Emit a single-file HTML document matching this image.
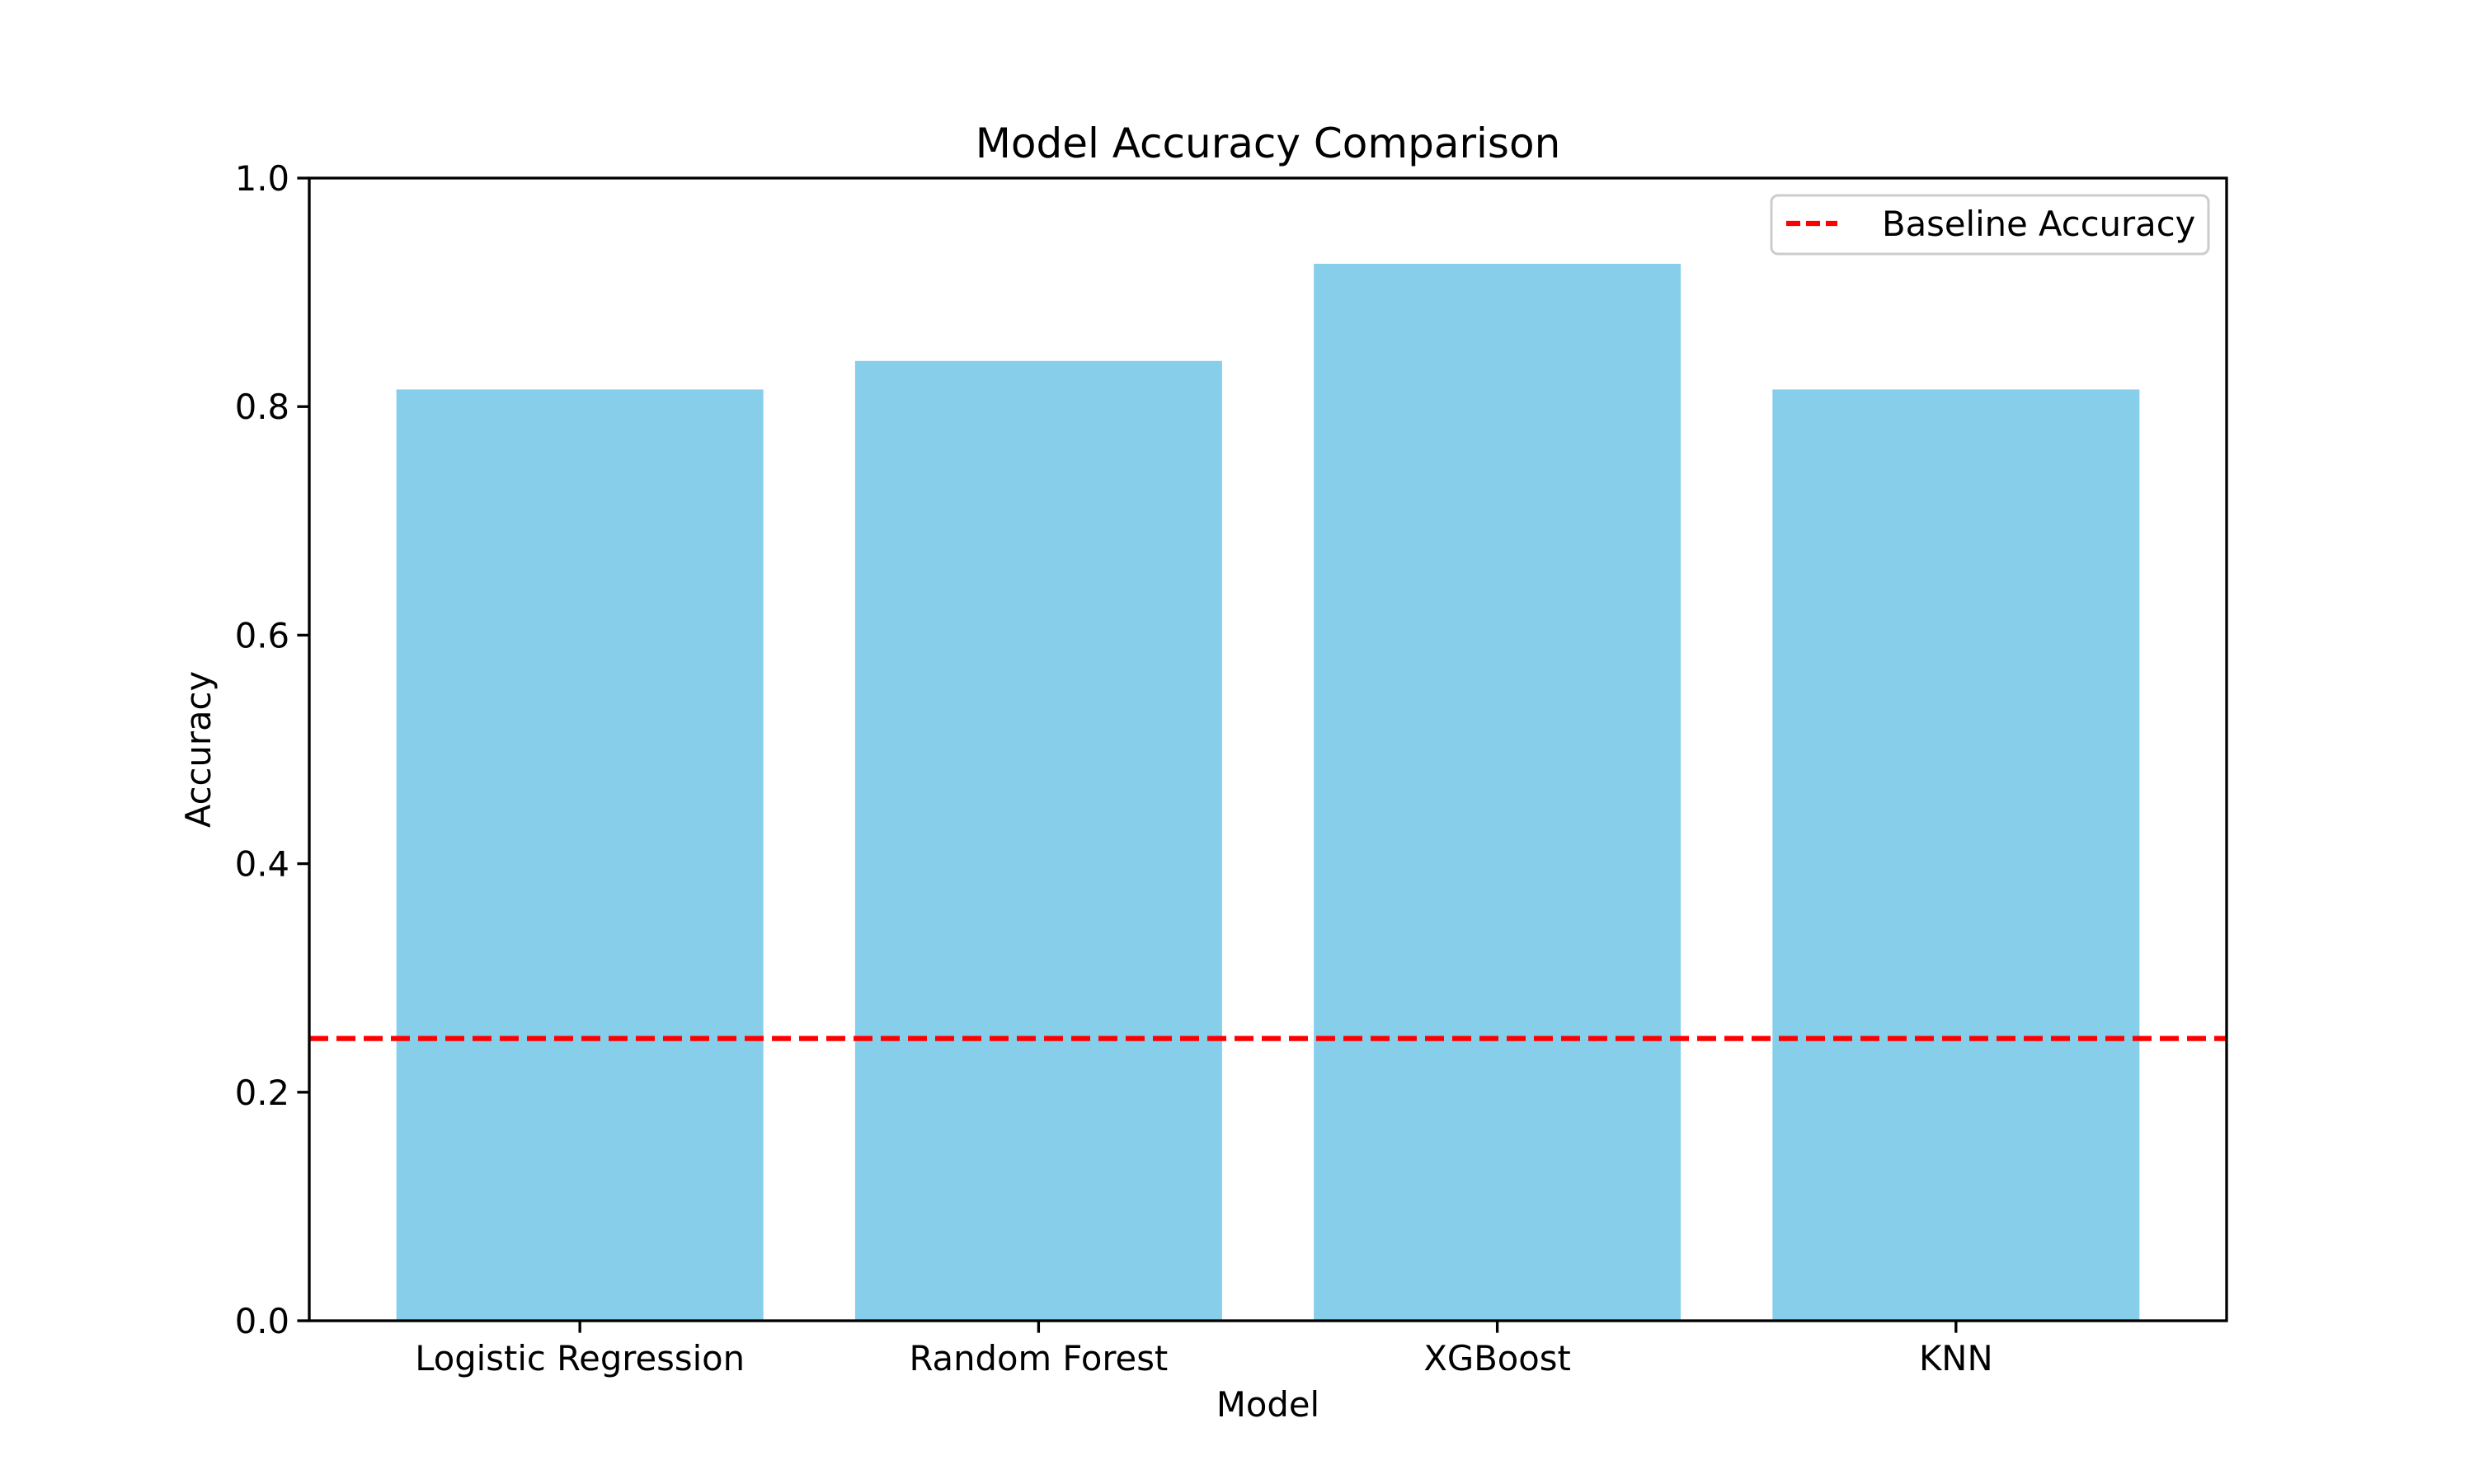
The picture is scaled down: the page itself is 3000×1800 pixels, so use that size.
<!DOCTYPE html>
<html><head><meta charset="utf-8"><style>
html,body{margin:0;padding:0;background:#fff}
svg{display:block;font-family:"DejaVu Sans","Liberation Sans",sans-serif}
</style></head><body>
<svg id="chart" width="3000" height="1800" viewBox="0 0 3000 1800" xmlns="http://www.w3.org/2000/svg">
<rect width="3000" height="1800" fill="#fff"/>
<g id="bars"></g>
<g id="baseline"></g>
<g id="axes"></g>
<text x="1537.5" y="191" font-size="50" text-anchor="middle">Model Accuracy Comparison</text>
<text x="1537.5" y="1718" font-size="41.7" text-anchor="middle">Model</text>
<text x="255" y="909" font-size="41.7" text-anchor="middle" transform="rotate(-90 255 909)">Accuracy</text>
<g>
<rect x="2148" y="237" width="530" height="71" rx="8" fill="#fff" fill-opacity="0.8" stroke="#ccc" stroke-width="3"/>
<line x1="2164" y1="271" x2="2228" y2="271" stroke="#ff0000" stroke-width="6.25" stroke-dasharray="17,7" stroke-dashoffset="-2"/>
<text x="2282" y="286" font-size="41.7">Baseline Accuracy</text>
</g>
</svg>
<script>
const categories = ["Logistic Regression","Random Forest","XGBoost","KNN"];
const accuracies = [0.815, 0.84, 0.925, 0.815];
const baselineValue = 0.247;
const yTicks = [0,0.2,0.4,0.6,0.8,1.0];
const yTickLabels = ["0.0","0.2","0.4","0.6","0.8","1.0"];

const L=375,R=2700,T=216,B=1602;
const xmin=-0.59,xmax=3.59;
const xs=v=>L+(v-xmin)/(xmax-xmin)*(R-L);
const ys=v=>B-(v-0)/(1-0)*(B-T);
const NS="http://www.w3.org/2000/svg";
function mk(tag,attrs,parent){const e=document.createElementNS(NS,tag);for(const k in attrs)e.setAttribute(k,attrs[k]);parent.appendChild(e);return e;}

const bars=document.getElementById('bars');
accuracies.forEach((v,i)=>{
  const r=mk('rect',{x:xs(i-0.4),y:ys(v),width:xs(i+0.4)-xs(i-0.4),height:ys(0)-ys(v),fill:'#87ceeb'},bars);
  
  
});
const bl=document.getElementById('baseline');
const ln=mk('line',{x1:L,x2:R,y1:ys(baselineValue),y2:ys(baselineValue),stroke:'#ff0000','stroke-width':6.25,'stroke-dasharray':'23,10'},bl);



const ax=document.getElementById('axes');
const fr=mk('rect',{x:L,y:T,width:R-L,height:B-T,fill:'none',stroke:'#000','stroke-width':3.33},ax);


yTicks.forEach((v,i)=>{
  const y=ys(v);
  mk('line',{x1:L-14.6,x2:L,y1:y,y2:y,stroke:'#000','stroke-width':3.33},ax);
  const t=mk('text',{x:L-24,y:y+15,'font-size':41.7,'text-anchor':'end'},ax);
  t.textContent=yTickLabels[i];
  
  
});
categories.forEach((c,i)=>{
  const x=xs(i);
  mk('line',{x1:x,x2:x,y1:B,y2:B+14.6,stroke:'#000','stroke-width':3.33},ax);
  const t=mk('text',{x:x,y:B+60,'font-size':41.7,'text-anchor':'middle'},ax);
  t.textContent=c;
  
  
});
</script>
</body></html>
